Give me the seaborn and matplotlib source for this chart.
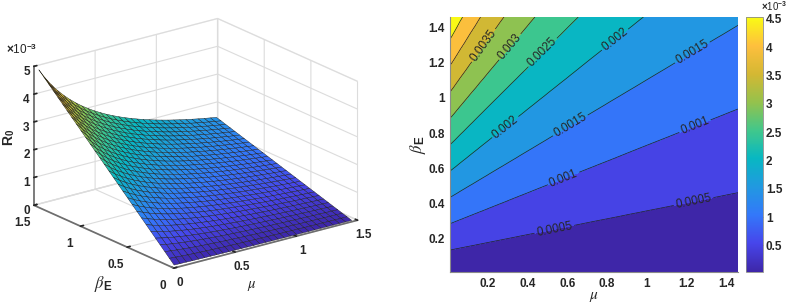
import matplotlib
matplotlib.use("Agg")
import matplotlib.pyplot as plt
from matplotlib.colors import Normalize
from matplotlib.cm import ScalarMappable
import numpy as np
import seaborn as sns

#grid of the two parameters
mu_vals = [0.01, 0.06, 0.11, 0.16, 0.21, 0.26, 0.31, 0.36, 0.41, 0.46, 0.51, 0.56, 0.61, 0.66, 0.71,
           0.76, 0.81, 0.86, 0.91, 0.96, 1.01, 1.06, 1.11, 1.16, 1.21, 1.26, 1.31, 1.36, 1.41, 1.46]
beta_vals = [0.01, 0.06, 0.11, 0.16, 0.21, 0.26, 0.31, 0.36, 0.41, 0.46, 0.51, 0.56, 0.61, 0.66, 0.71,
             0.76, 0.81, 0.86, 0.91, 0.96, 1.01, 1.06, 1.11, 1.16, 1.21, 1.26, 1.31, 1.36, 1.41, 1.46]

#R0 in units of 1e-3, one row per beta, estimated from the contour picture
r0_rows = [
    [.083, .078, .073, .068, .064, .061, .058, .055, .052, .050, .048, .046, .044, .042, .041, .039, .038, .037, .035, .034, .033, .032, .031, .031, .030, .029, .028, .028, .027, .026],
    [.250, .233, .218, .204, .193, .182, .173, .164, .156, .149, .143, .137, .132, .127, .122, .118, .114, .110, .106, .103, .100, .097, .094, .092, .089, .087, .085, .083, .081, .079],
    [.417, .388, .363, .341, .321, .303, .288, .274, .261, .249, .238, .229, .220, .211, .203, .196, .190, .183, .177, .172, .167, .162, .157, .153, .149, .145, .141, .138, .135, .131],
    [.584, .543, .508, .477, .449, .425, .403, .383, .365, .349, .334, .320, .307, .296, .285, .275, .265, .257, .248, .241, .234, .227, .220, .214, .208, .203, .198, .193, .188, .184],
    [.751, .699, .653, .613, .578, .546, .518, .492, .469, .448, .429, .411, .395, .380, .366, .353, .341, .330, .319, .310, .300, .291, .283, .275, .268, .261, .254, .248, .242, .236],
    [.918, .854, .798, .749, .706, .667, .633, .602, .574, .548, .524, .503, .483, .465, .447, .432, .417, .403, .390, .378, .367, .356, .346, .337, .328, .319, .311, .303, .296, .289],
    [1.085, 1.009, .943, .886, .834, .789, .748, .711, .678, .647, .620, .594, .571, .549, .529, .510, .493, .477, .461, .447, .434, .421, .409, .398, .387, .377, .367, .358, .350, .341],
    [1.252, 1.165, 1.089, 1.022, .963, .910, .863, .821, .782, .747, .715, .686, .659, .633, .610, .589, .569, .550, .532, .516, .500, .486, .472, .459, .447, .435, .424, .413, .404, .394],
    [1.419, 1.320, 1.234, 1.158, 1.091, 1.032, .978, .930, .886, .847, .810, .777, .746, .718, .692, .667, .644, .623, .603, .585, .567, .550, .535, .520, .506, .493, .480, .469, .457, .446],
    [1.586, 1.475, 1.379, 1.294, 1.219, 1.153, 1.093, 1.039, .991, .946, .906, .868, .834, .802, .773, .746, .720, .697, .674, .653, .634, .615, .598, .581, .566, .551, .537, .524, .511, .499],
    [1.753, 1.630, 1.524, 1.431, 1.348, 1.274, 1.208, 1.149, 1.095, 1.046, 1.001, .960, .922, .887, .854, .824, .796, .770, .745, .722, .701, .680, .661, .643, .625, .609, .593, .579, .565, .551],
    [1.920, 1.786, 1.669, 1.567, 1.476, 1.396, 1.323, 1.258, 1.199, 1.145, 1.096, 1.051, 1.010, .971, .936, .903, .872, .843, .816, .791, .767, .745, .724, .704, .685, .667, .650, .634, .619, .604],
    [2.087, 1.941, 1.814, 1.703, 1.605, 1.517, 1.439, 1.368, 1.304, 1.245, 1.192, 1.143, 1.098, 1.056, 1.017, .981, .948, .917, .887, .860, .834, .810, .787, .765, .745, .725, .707, .689, .673, .657],
    [2.254, 2.096, 1.959, 1.839, 1.733, 1.638, 1.554, 1.477, 1.408, 1.345, 1.287, 1.234, 1.185, 1.140, 1.098, 1.060, 1.024, .990, .958, .929, .901, .874, .850, .826, .804, .783, .763, .744, .726, .709],
    [2.421, 2.252, 2.105, 1.975, 1.861, 1.760, 1.669, 1.586, 1.512, 1.444, 1.382, 1.325, 1.273, 1.225, 1.180, 1.138, 1.099, 1.063, 1.029, .997, .967, .939, .913, .887, .864, .841, .820, .799, .780, .762],
    [2.588, 2.407, 2.250, 2.112, 1.990, 1.881, 1.784, 1.696, 1.616, 1.544, 1.477, 1.417, 1.361, 1.309, 1.261, 1.217, 1.175, 1.136, 1.100, 1.066, 1.034, 1.004, .976, .949, .923, .899, .876, .854, .834, .814],
    [2.755, 2.562, 2.395, 2.248, 2.118, 2.002, 1.899, 1.805, 1.721, 1.643, 1.573, 1.508, 1.449, 1.394, 1.342, 1.295, 1.251, 1.210, 1.171, 1.135, 1.101, 1.069, 1.039, 1.010, .983, .957, .933, .909, .888, .867],
    [2.921, 2.717, 2.540, 2.384, 2.246, 2.124, 2.014, 1.915, 1.825, 1.743, 1.668, 1.600, 1.537, 1.478, 1.424, 1.374, 1.327, 1.283, 1.242, 1.204, 1.168, 1.133, 1.101, 1.071, 1.042, 1.015, .989, .965, .942, .919],
    [3.088, 2.873, 2.685, 2.520, 2.375, 2.245, 2.129, 2.024, 1.929, 1.843, 1.763, 1.691, 1.624, 1.563, 1.505, 1.452, 1.403, 1.356, 1.313, 1.272, 1.234, 1.198, 1.164, 1.132, 1.102, 1.073, 1.046, 1.020, .995, .972],
    [3.255, 3.028, 2.830, 2.657, 2.503, 2.367, 2.244, 2.133, 2.033, 1.942, 1.859, 1.782, 1.712, 1.647, 1.587, 1.531, 1.478, 1.430, 1.384, 1.341, 1.301, 1.263, 1.227, 1.193, 1.161, 1.131, 1.102, 1.075, 1.049, 1.024],
    [3.422, 3.183, 2.975, 2.793, 2.631, 2.488, 2.359, 2.243, 2.138, 2.042, 1.954, 1.874, 1.800, 1.731, 1.668, 1.609, 1.554, 1.503, 1.455, 1.410, 1.368, 1.328, 1.290, 1.255, 1.221, 1.189, 1.159, 1.130, 1.103, 1.077],
    [3.589, 3.339, 3.121, 2.929, 2.760, 2.609, 2.474, 2.352, 2.242, 2.141, 2.049, 1.965, 1.888, 1.816, 1.749, 1.688, 1.630, 1.576, 1.526, 1.479, 1.434, 1.392, 1.353, 1.316, 1.281, 1.247, 1.215, 1.185, 1.157, 1.129],
    [3.756, 3.494, 3.266, 3.065, 2.888, 2.731, 2.589, 2.462, 2.346, 2.241, 2.145, 2.057, 1.976, 1.900, 1.831, 1.766, 1.706, 1.650, 1.597, 1.548, 1.501, 1.457, 1.416, 1.377, 1.340, 1.305, 1.272, 1.240, 1.211, 1.182],
    [3.923, 3.649, 3.411, 3.202, 3.016, 2.852, 2.704, 2.571, 2.451, 2.341, 2.240, 2.148, 2.063, 1.985, 1.912, 1.845, 1.782, 1.723, 1.668, 1.616, 1.568, 1.522, 1.479, 1.438, 1.400, 1.363, 1.328, 1.295, 1.264, 1.234],
    [4.090, 3.804, 3.556, 3.338, 3.145, 2.973, 2.819, 2.680, 2.555, 2.440, 2.335, 2.239, 2.151, 2.069, 1.993, 1.923, 1.858, 1.796, 1.739, 1.685, 1.635, 1.587, 1.542, 1.499, 1.459, 1.421, 1.385, 1.350, 1.318, 1.287],
    [4.257, 3.960, 3.701, 3.474, 3.273, 3.095, 2.935, 2.790, 2.659, 2.540, 2.431, 2.331, 2.239, 2.154, 2.075, 2.002, 1.933, 1.870, 1.810, 1.754, 1.701, 1.651, 1.605, 1.561, 1.519, 1.479, 1.441, 1.406, 1.372, 1.339],
    [4.424, 4.115, 3.846, 3.610, 3.402, 3.216, 3.050, 2.899, 2.763, 2.639, 2.526, 2.422, 2.327, 2.238, 2.156, 2.080, 2.009, 1.943, 1.881, 1.823, 1.768, 1.716, 1.668, 1.622, 1.578, 1.537, 1.498, 1.461, 1.426, 1.392],
    [4.591, 4.270, 3.991, 3.747, 3.530, 3.337, 3.165, 3.009, 2.868, 2.739, 2.621, 2.514, 2.415, 2.323, 2.237, 2.159, 2.085, 2.016, 1.952, 1.891, 1.835, 1.781, 1.731, 1.683, 1.638, 1.595, 1.554, 1.516, 1.480, 1.444],
    [4.758, 4.425, 4.136, 3.883, 3.658, 3.459, 3.280, 3.118, 2.972, 2.839, 2.717, 2.605, 2.502, 2.407, 2.319, 2.237, 2.161, 2.090, 2.023, 1.960, 1.902, 1.846, 1.794, 1.744, 1.697, 1.653, 1.611, 1.571, 1.533, 1.497],
    [4.925, 4.581, 4.282, 4.019, 3.787, 3.580, 3.395, 3.227, 3.076, 2.938, 2.812, 2.696, 2.590, 2.492, 2.400, 2.316, 2.237, 2.163, 2.094, 2.029, 1.968, 1.910, 1.857, 1.805, 1.757, 1.711, 1.667, 1.626, 1.587, 1.549],
]

contour_levels = [0.0005, 0.001, 0.0015, 0.002, 0.0025, 0.003, 0.0035, 0.004, 0.0045]
colorbar_ticks = [0.5, 1, 1.5, 2, 2.5, 3, 3.5, 4, 4.5]
colorbar_labels = ["0.5", "1", "1.5", "2", "2.5", "3", "3.5", "4", "4.5"]
axis_ticks = [0.2, 0.4, 0.6, 0.8, 1.0, 1.2, 1.4]
axis_labels = ["0.2", "0.4", "0.6", "0.8", "1", "1.2", "1.4"]

#where the inline contour labels sit (mu, beta)
label_spots = [(0.535, 0.255), (1.236, 0.413), (0.58, 0.547), (1.241, 0.846), (0.617, 0.842),
               (1.229, 1.261), (0.29, 0.832), (0.844, 1.327), (0.474, 1.261), (0.312, 1.29), (0.178, 1.299)]

parula_colors = [(.2422, .1504, .6603), (.2777, .2720, .92), (.2, .47, .98), (.13, .6, .88), (.03, .72, .76),
                 (.25, .78, .55), (.58, .76, .3), (.83, .72, .2), (.995, .75, .24), (.977, .984, .08)]

sns.set_theme(style="white")
plt.rcParams["font.family"] = ["Liberation Sans", "DejaVu Sans"]
plt.rcParams["mathtext.fontset"] = "custom"
plt.rcParams["mathtext.rm"] = "Liberation Sans:bold"
plt.rcParams["mathtext.bf"] = "Liberation Sans:bold"
plt.rcParams["mathtext.it"] = "STIXGeneral:italic"
plt.rcParams["mathtext.fallback"] = "stix"
parula = sns.blend_palette(parula_colors, as_cmap=True)

TEXT = "#262626"
GRID = "#dcdcdc"
AXIS = "#6e6e6e"

mu_grid, beta_grid = np.meshgrid(mu_vals, beta_vals)
r0 = np.array(r0_rows) * 1e-3

fig = plt.figure(figsize=(7.87, 3.05), dpi=100)

# Left: surface
ax3d = fig.add_axes([17 / 787, 1 - 322 / 305, 348 / 787, 348 / 305], projection="3d", computed_zorder=False)
ax3d.set_proj_type("ortho")
ax3d.view_init(elev=20, azim=-127.3)
ax3d.set_box_aspect((1, 1, 0.64), zoom=1.0)
ax3d.patch.set_alpha(0)
ax3d.plot_surface(mu_grid, beta_grid, r0, cmap=parula, vmin=r0.min(), vmax=r0.max(),
                  edgecolor="#1a1a1a", linewidth=0.3, rstride=1, cstride=1, shade=False, antialiased=True)
ax3d.set_xlim(0, 1.5)
ax3d.set_ylim(0, 1.5)
ax3d.set_zlim(0, 0.005)
ax3d.set_xticks([0, 0.5, 1, 1.5], ["0", "0.5", "1", "1.5"])
ax3d.set_yticks([0, 0.5, 1, 1.5], ["0", "0.5", "1", "1.5"])
ax3d.set_zticks([0, 0.001, 0.002, 0.003, 0.004, 0.005], ["0", "1", "2", "3", "4", "5"])
for axis in (ax3d.xaxis, ax3d.yaxis, ax3d.zaxis):
    axis.pane.set_facecolor((1, 1, 1, 0))
    axis.pane.set_edgecolor(GRID)
    axis.line.set_color(AXIS)
    axis._axinfo["grid"].update(color=GRID, linewidth=0.8)
    axis._axinfo["tick"].update(inward_factor=0.0, outward_factor=0.2)
    axis._axinfo["tick"]["color"] = AXIS
ax3d.tick_params(labelsize=8.5, colors=TEXT)
ax3d.tick_params(axis="x", pad=-2)
ax3d.tick_params(axis="y", pad=0)
ax3d.tick_params(axis="z", pad=-5)
for lab in ax3d.get_xticklabels() + ax3d.get_yticklabels() + ax3d.get_zticklabels():
    lab.set_fontweight("bold")
ax3d.zaxis.set_ticks_position("upper")
fig.text(6 / 787, 1 - 50 / 305, r"$\times$10$^{-3}$", fontsize=8.5, color=TEXT, ha="left", va="center")
fig.text(9 / 787, 1 - 137 / 305, r"R$_{0}$", rotation=90, fontsize=10, color=TEXT, fontweight="bold", ha="center", va="center")
fig.text(103 / 787, 1 - 284 / 305, r"$\beta_{\mathbf{E}}$", fontsize=12, color=TEXT, ha="center", va="center")
fig.text(252 / 787, 1 - 286 / 305, r"$\mu$", fontsize=10.5, color=TEXT, ha="center", va="center")

# Right: filled contours, each band takes the colour of its lower level
ax = fig.add_axes([450 / 787, 1 - 272 / 305, 288 / 787, 255 / 305])
norm = Normalize(0.00003, 0.00453)
fill_levels = [r0.min()] + contour_levels + [r0.max()]
band_colors = [parula(norm(v)) for v in fill_levels[:-1]]
ax.contourf(mu_vals, beta_vals, r0, levels=fill_levels, colors=band_colors)
lines = ax.contour(mu_vals, beta_vals, r0, levels=contour_levels, colors="#222222", linewidths=0.5)
ax.clabel(lines, fmt="%g", fontsize=8.5, manual=label_spots, inline=True, inline_spacing=2, colors=TEXT)
ax.set_xticks(axis_ticks, axis_labels)
ax.set_yticks(axis_ticks, axis_labels)
ax.tick_params(direction="in", length=2.5, width=0.6, color=AXIS, labelsize=8.5, labelcolor=TEXT, pad=4)
for lab in ax.get_xticklabels() + ax.get_yticklabels():
    lab.set_fontweight("bold")
for side in ("top", "right"):
    ax.spines[side].set_visible(False)
for side in ("left", "bottom"):
    ax.spines[side].set_color("#8a8a8a")
    ax.spines[side].set_linewidth(0.8)
ax.set_xlabel(r"$\mu$", fontsize=11, color=TEXT, labelpad=0)
ax.set_ylabel(r"$\beta_{\mathbf{E}}$", fontsize=12, color=TEXT, labelpad=0)

#colorbar
cax = fig.add_axes([746 / 787, 1 - 272 / 305, 17 / 787, 255 / 305])
cbar = fig.colorbar(ScalarMappable(norm=norm, cmap=parula), cax=cax)
cbar.set_ticks([v * 1e-3 for v in colorbar_ticks], labels=colorbar_labels)
cbar.ax.tick_params(direction="in", length=2.5, width=0.6, color=AXIS, labelsize=8.5, labelcolor=TEXT, pad=2)
for lab in cbar.ax.get_yticklabels():
    lab.set_fontweight("bold")
cbar.outline.set_edgecolor("#8a8a8a")
cbar.outline.set_linewidth(0.6)
fig.text(774 / 787, 1 - 6 / 305, r"$\times$10$^{-3}$", fontsize=7, color=TEXT, ha="center", va="center")

plt.savefig("out.png", dpi=100)
plt.close()
